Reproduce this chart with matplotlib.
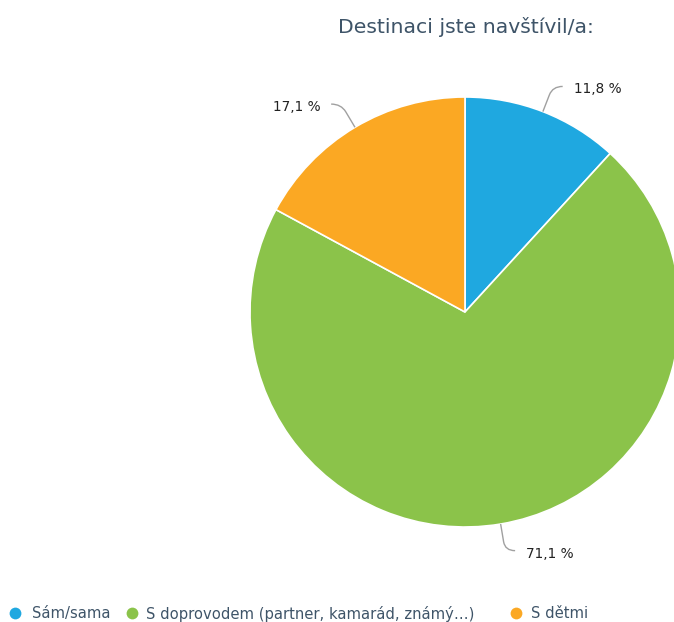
import matplotlib
matplotlib.use("Agg")
import matplotlib.pyplot as plt
from matplotlib.path import Path
from matplotlib.patches import PathPatch
import numpy as np

title = "Destinaci jste navštívil/a:"
categories = ["Sám/sama", "S doprovodem (partner, kamarád, známý…)", "S dětmi"]
values = [11.8, 71.1, 17.1]
labels = ["11,8 %", "71,1 %", "17,1 %"]
colors = ["#1fa8e0", "#8bc34a", "#fba823"]

W, H = 674, 622
fig = plt.figure(figsize=(W / 100, H / 100), dpi=100)
ax = fig.add_axes([0, 0, 1, 1])

cx, cy, r = 465, H - 312, 215
wedges, _ = ax.pie(values, colors=colors, startangle=90, counterclock=False,
                   center=(cx, cy), radius=r, frame=True,
                   wedgeprops=dict(edgecolor="white", linewidth=1.2))
ax.set_xlim(0, W)
ax.set_ylim(0, H)
ax.axis("off")

# leader lines and labels
for w, lab in zip(wedges, labels):
    ang = np.deg2rad((w.theta1 + w.theta2) / 2)
    d = np.array([np.cos(ang), np.sin(ang)])
    side = 1 if d[0] >= 0 else -1
    E = np.array([cx, cy]) + r * d
    P1 = np.array([cx, cy]) + (r + 18) * d
    B = np.array([cx, cy]) + (r + 27) * d
    End = B + np.array([side * 10, 0])
    verts = [tuple(E), tuple(P1), tuple(B), tuple(End)]
    codes = [Path.MOVETO, Path.LINETO, Path.CURVE3, Path.CURVE3]
    ax.add_patch(PathPatch(Path(verts, codes), fill=False, edgecolor="#a0a0a0", lw=1.0))
    ax.text(End[0] + side * 11, End[1] - 3, lab, fontsize=9.8, color="#222222",
            ha="left" if side > 0 else "right", va="center", family="DejaVu Sans")

fig.text(465.5 / W, 1 - 33 / H, title, fontsize=14.7, color="#3e5468",
         ha="center", va="baseline", family="DejaVu Sans")

# legend
dot_x = [15, 132, 516]
txt_x = [32, 146, 531]
for c, lab, dx, tx in zip(colors, categories, dot_x, txt_x):
    ax.scatter([dx], [H - 613], s=72, color=c, zorder=5, clip_on=False, linewidths=0)
    ax.text(tx, H - 613.5, lab, fontsize=10.6, color="#3e5468", ha="left", va="center",
            family="DejaVu Sans")

fig.savefig("out.png", dpi=100)
